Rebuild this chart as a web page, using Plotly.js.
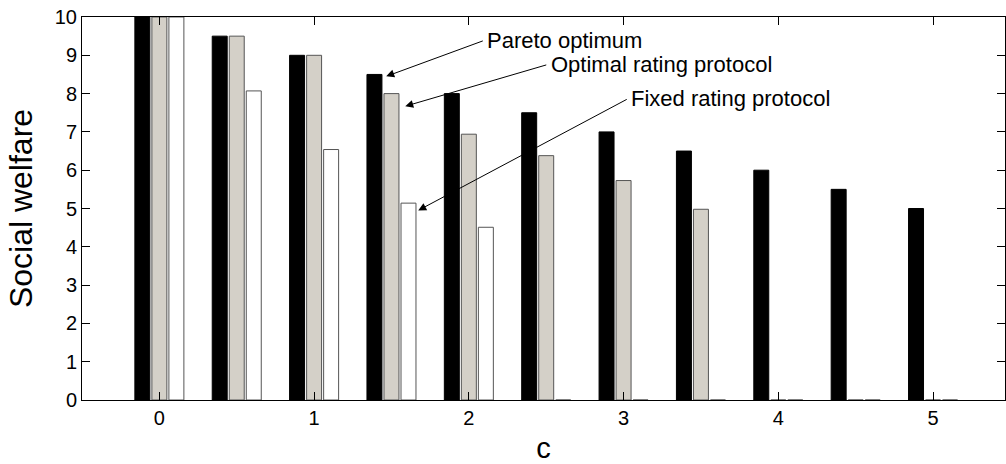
<!DOCTYPE html>
<html>
<head>
<meta charset="utf-8">
<script src="https://cdn.plot.ly/plotly-3.0.1.min.js"></script>
<style>html,body{margin:0;padding:0;background:#fff;}#chart{width:1006px;height:464px;}</style>
</head>
<body>
<div id="chart"></div>
<script>
var cValues = [0, 0.5, 1, 1.5, 2, 2.5, 3, 3.5, 4, 4.5, 5];
var paretoOptimum = [10, 9.5, 9, 8.5, 8, 7.5, 7, 6.5, 6, 5.5, 5];
var optimalRating = [10, 9.5, 9, 8.0, 6.94, 6.38, 5.73, 4.98, 0, 0, 0];
var fixedRating = [10, 8.07, 6.54, 5.14, 4.51, 0, 0, 0, 0, 0, 0];
var xTickVals = [0, 1, 2, 3, 4, 5];
var yTickVals = [0, 1, 2, 3, 4, 5, 6, 7, 8, 9, 10];

var seriesNames = ['Pareto optimum', 'Optimal rating protocol', 'Fixed rating protocol'];

var font = 'Liberation Sans, Arial, sans-serif';

var traces = [
  {type: 'bar', x: cValues, y: paretoOptimum, name: seriesNames[0],
   marker: {color: '#000000', line: {color: '#000000', width: 1}}},
  {type: 'bar', x: cValues, y: optimalRating, name: seriesNames[1],
   marker: {color: '#d4d0c8', line: {color: '#555555', width: 1}}},
  {type: 'bar', x: cValues, y: fixedRating, name: seriesNames[2],
   marker: {color: '#ffffff', line: {color: '#555555', width: 1}}}
];

// arrows: label position (tail) and arrow head, in data coords
var arrows = [
  {text: seriesNames[0], tx: 2.10, ty: 9.39, hx: 1.466, hy: 8.45},
  {text: seriesNames[1], tx: 2.51, ty: 8.76, hx: 1.589, hy: 7.67},
  {text: seriesNames[2], tx: 3.03, ty: 7.87, hx: 1.673, hy: 4.95}
];
var annotations = [];
arrows.forEach(function(a){
  annotations.push({x: a.hx, y: a.hy, ax: a.tx, ay: a.ty, xref: 'x', yref: 'y', axref: 'x', ayref: 'y',
    text: '', showarrow: true, arrowhead: 2, arrowsize: 1.6, arrowwidth: 1, arrowcolor: '#000'});
  annotations.push({x: a.tx, y: a.ty, xref: 'x', yref: 'y', text: a.text, showarrow: false,
    xanchor: 'left', yanchor: 'middle', xshift: 1, font: {family: font, size: 22, color: '#000'}});
});

var layout = {
  width: 1006, height: 464,
  margin: {l: 82, r: 1, t: 17, b: 64, pad: 0},
  paper_bgcolor: '#fff', plot_bgcolor: '#fff',
  showlegend: false,
  barmode: 'group', bargap: 0.34, bargroupgap: 0.12,
  font: {family: font, size: 20, color: '#000'},
  xaxis: {
    range: [-0.5, 5.465], tickvals: xTickVals, ticks: 'inside', ticklen: 8, tickcolor: '#000',
    showline: true, linecolor: '#000', linewidth: 1, mirror: 'ticks', showgrid: false, zeroline: false,
    layer: 'above traces',
    tickfont: {family: font, size: 20}, title: {text: 'c', font: {family: font, size: 29}, standoff: 9}
  },
  yaxis: {
    range: [0, 10], tickvals: yTickVals, ticks: 'inside', ticklen: 8, tickcolor: '#000',
    showline: true, linecolor: '#000', linewidth: 1, mirror: 'ticks', showgrid: false, zeroline: false,
    layer: 'above traces',
    tickfont: {family: font, size: 20}, title: {text: 'Social welfare', font: {family: font, size: 32}, standoff: 12}
  },
  annotations: annotations
};

Plotly.newPlot('chart', traces, layout, {staticPlot: true, displayModeBar: false});
</script>
</body>
</html>
